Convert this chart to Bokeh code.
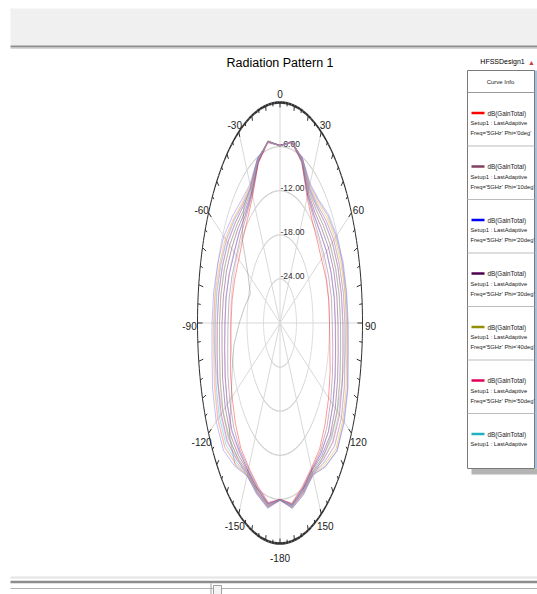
import math
from bokeh.plotting import figure
from bokeh.models import Range1d
from bokeh.embed import file_html
from bokeh.resources import INLINE
from bokeh.core.properties import value

# ---------------- data ----------------
THETA = [-180, -170, -160, -150, -140, -130, -120, -110, -100, -90, -80, -70, -60, -50, -40, -30, -20, -10,
         0, 10, 20, 30, 40, 50, 60, 70, 80, 90, 100, 110, 120, 130, 140, 150, 160, 170, 180]

PHI = [0, 10, 20, 30, 40, 50, 60, 70, 80, 90, 100, 110, 120, 130]

GAIN_PHI0 = [-6.0, -5.2, -6.4, -7.3, -7.8, -8.8, -9.9, -10.8, -11.8, -12.2, -12.3, -12.5, -12.7, -12.3, -11.6, -10.1, -6.9, -5.0,
             -5.8, -5.1, -6.8, -10.3, -11.8, -12.4, -12.6, -12.2, -12.0, -12.0, -11.6, -10.6, -9.6, -8.6, -7.6, -7.2, -6.3, -5.1, -6.0]
GAIN_PHI10 = [-6.0, -5.1, -6.2, -7.1, -7.4, -8.0, -8.9, -9.8, -10.7, -11.1, -11.2, -11.4, -11.7, -11.4, -11.0, -9.8, -6.8, -4.9,
              -5.8, -5.0, -6.7, -10.0, -11.2, -11.6, -11.5, -11.2, -11.0, -11.0, -10.5, -9.7, -8.7, -7.8, -7.2, -7.0, -6.1, -5.0, -6.0]
GAIN_PHI20 = [-6.0, -5.0, -6.0, -6.8, -7.1, -7.2, -7.9, -8.8, -9.6, -10.0, -10.1, -10.4, -10.8, -10.7, -10.6, -9.6, -6.7, -4.9,
              -5.9, -5.0, -6.6, -9.8, -10.8, -10.9, -10.5, -10.2, -10.0, -9.9, -9.5, -8.7, -7.8, -7.0, -6.8, -6.9, -5.9, -4.9, -6.0]
GAIN_PHI30 = [-5.9, -4.9, -5.9, -6.7, -6.5, -6.4, -7.0, -7.8, -8.6, -8.9, -9.1, -9.3, -9.7, -10.0, -10.2, -9.4, -6.6, -4.9,
              -5.9, -4.9, -6.5, -9.5, -10.3, -10.1, -9.6, -9.2, -9.0, -8.9, -8.5, -7.7, -6.8, -6.2, -6.4, -6.8, -5.8, -4.8, -5.9]
GAIN_PHI40 = [-5.9, -4.8, -5.7, -6.5, -6.1, -5.7, -6.1, -6.9, -7.7, -8.0, -8.2, -8.5, -8.9, -9.4, -9.7, -9.1, -6.5, -4.8,
              -5.9, -4.9, -6.4, -9.2, -9.8, -9.4, -8.8, -8.4, -8.1, -8.0, -7.6, -6.8, -5.9, -5.5, -6.0, -6.6, -5.6, -4.7, -5.9]
GAIN_PHI50 = [-5.9, -4.7, -5.6, -6.4, -5.7, -5.0, -5.3, -6.0, -6.8, -7.2, -7.4, -7.7, -8.1, -8.8, -9.2, -8.8, -6.4, -4.9,
              -5.9, -4.9, -6.3, -8.9, -9.3, -8.7, -8.0, -7.6, -7.3, -7.1, -6.7, -5.9, -5.0, -4.8, -5.6, -6.5, -5.5, -4.6, -5.9]
GAIN_PHI60 = [-5.9, -4.6, -5.5, -6.3, -5.3, -4.3, -4.5, -5.3, -6.1, -6.5, -6.7, -7.1, -7.5, -8.3, -8.9, -8.6, -6.3, -5.0,
              -5.9, -5.0, -6.3, -8.7, -9.0, -8.2, -7.4, -7.0, -6.6, -6.4, -6.0, -5.1, -4.2, -4.0, -5.2, -6.4, -5.4, -4.6, -5.9]
GAIN_PHI70 = [-5.9, -4.5, -5.4, -6.2, -4.9, -3.7, -3.8, -4.6, -5.5, -5.9, -6.1, -6.6, -7.0, -7.9, -8.6, -8.4, -6.2, -5.0,
              -5.9, -5.0, -6.2, -8.5, -8.6, -7.7, -6.9, -6.4, -6.0, -5.8, -5.4, -4.4, -3.6, -3.4, -4.8, -6.3, -5.3, -4.5, -5.9]
GAIN_PHI80 = [-5.9, -4.5, -5.3, -6.1, -4.7, -6.0, -9.5, -11.5, -13.0, -15.2, -17.0, -18.5, -16.5, -12.0, -9.5, -8.6, -6.2, -5.0,
              -5.9, -5.0, -6.2, -8.3, -8.3, -7.3, -6.5, -5.9, -5.6, -5.4, -5.0, -3.9, -3.2, -3.0, -4.5, -6.2, -5.2, -4.4, -5.9]
GAIN_PHI90 = [-5.9, -4.4, -5.2, -6.0, -4.5, -3.1, -3.2, -3.9, -4.9, -5.3, -5.5, -6.0, -6.4, -7.4, -8.2, -8.2, -6.1, -5.1,
              -5.8, -5.1, -6.1, -8.1, -8.1, -7.0, -6.2, -5.6, -5.4, -5.2, -4.8, -3.7, -3.0, -2.9, -4.4, -6.1, -5.1, -4.4, -5.9]
GAIN_PHI100 = [-5.8, -4.6, -5.4, -6.4, -5.0, -3.8, -4.0, -4.9, -5.9, -6.3, -6.5, -6.9, -7.4, -8.1, -8.9, -8.7, -6.4, -5.1,
               -5.9, -5.1, -6.3, -8.6, -8.9, -8.2, -7.4, -7.0, -6.6, -6.4, -6.0, -5.0, -4.2, -4.1, -5.1, -6.3, -5.5, -4.6, -5.8]
GAIN_PHI110 = [-5.9, -4.8, -5.6, -6.6, -6.0, -5.5, -5.9, -6.8, -7.6, -8.0, -8.1, -8.4, -8.8, -9.4, -9.8, -9.2, -6.4, -4.9,
               -5.9, -4.9, -6.5, -9.1, -9.7, -9.4, -8.9, -8.5, -8.2, -8.0, -7.7, -6.9, -6.1, -5.7, -6.1, -6.5, -5.7, -4.8, -5.9]
GAIN_PHI120 = [-6.0, -4.9, -5.9, -6.9, -6.9, -7.0, -7.8, -8.7, -9.5, -9.9, -10.0, -10.3, -10.6, -10.8, -10.7, -9.7, -6.6, -5.0,
               -5.9, -5.0, -6.7, -9.7, -10.7, -10.8, -10.4, -10.1, -9.9, -9.8, -9.4, -8.6, -7.7, -7.0, -7.0, -6.8, -6.0, -5.0, -6.0]
GAIN_PHI130 = [-5.9, -4.6, -5.5, -6.5, -5.6, -4.8, -5.0, -5.9, -6.7, -7.1, -7.3, -7.6, -8.0, -8.7, -9.3, -8.9, -6.3, -4.9,
               -5.9, -4.9, -6.4, -8.8, -9.2, -8.8, -8.1, -7.7, -7.4, -7.2, -6.8, -6.0, -5.3, -5.0, -5.7, -6.4, -5.6, -4.7, -5.9]

GAINS = [GAIN_PHI0, GAIN_PHI10, GAIN_PHI20, GAIN_PHI30, GAIN_PHI40, GAIN_PHI50, GAIN_PHI60,
         GAIN_PHI70, GAIN_PHI80, GAIN_PHI90, GAIN_PHI100, GAIN_PHI110, GAIN_PHI120, GAIN_PHI130]

CURVE_COLORS = ["#ff0000", "#804060", "#0000ff", "#500050", "#909000", "#e0005a", "#20b0c0",
                "#ff8c00", "#707070", "#6060ff", "#ff80b0", "#9090d8", "#e09070", "#70b0e0"]

RING_DB = [-24, -18, -12, -6]
RING_LABELS = ["-24.00", "-18.00", "-12.00", "-6.00"]
R_MIN, R_MAX = -30, 0

ANGLE_TICKS = [0, 30, 60, 90, 120, 150, 180, 210, 240, 270, 300, 330]
ANGLE_LABELS = ["0", "30", "60", "90", "120", "150", "-180", "-150", "-120", "-90", "-60", "-30"]

LEGEND_COUNT = 7
TITLE = "Radiation Pattern 1"
DESIGN = "HFSSDesign1"

# ---------------- layout ----------------
FONT = "Liberation Sans"
CX, CY, RX, RY = 279.5, 322.5, 82.5, 220.5
W, H = 537, 594

p = figure(width=W, height=H, x_range=Range1d(0, W), y_range=Range1d(H, 0),
           output_backend="svg", toolbar_location=None, min_border=0,
           x_axis_location=None, y_axis_location=None, outline_line_color=None)
p.grid.visible = False
p.background_fill_color = "white"
p.border_fill_color = "white"


def frac(db):
    return (db - R_MIN) / (R_MAX - R_MIN)


def to_xy(theta_deg, db):
    f = frac(db)
    t = math.radians(theta_deg)
    return CX + f * RX * math.sin(t), CY - f * RY * math.cos(t)


def label(x, y, txt, size, align="left", color="#202020"):
    p.text(x=x if isinstance(x, list) else [x], y=y if isinstance(y, list) else [y],
           text=txt if isinstance(txt, list) else [txt], text_font=value(FONT),
           text_font_size=size, text_align=align, text_baseline="middle", text_color=color)


# window chrome
p.quad(left=10, right=W, top=8, bottom=45, fill_color="#f0f0f0", line_color=None)
p.segment(x0=10, y0=46, x1=W, y1=46, line_color="#8c8c8c", line_width=2)
p.segment(x0=10, y0=48, x1=W, y1=48, line_color="#d8d8d8", line_width=1)
p.segment(x0=10, y0=577, x1=W, y1=577, line_color="#e4e4e4", line_width=2)
p.segment(x0=10, y0=581.5, x1=W, y1=581.5, line_color="#8c8c8c", line_width=2.5)
p.segment(x0=10, y0=588, x1=W, y1=588, line_color="#b0b0b0", line_width=1)
p.quad(left=213, right=221, top=585, bottom=600, fill_color="#f4f4f4", line_color="#a0a0a0")
p.segment(x0=210.5, y0=583, x1=210.5, y1=600, line_color="#a0a0a0", line_width=1)

# grid rings (stroke slightly heavier where tangent is horizontal, as in the stretched original)
for db in RING_DB:
    xs, ys, ws = [], [], []
    for a in range(0, 360, 3):
        x0, y0 = to_xy(a, db)
        x1, y1 = to_xy(a + 3, db)
        xs.append([x0, x1]); ys.append([y0, y1])
        ws.append(0.7 + 0.6 * abs(math.cos(math.radians(a + 1.5))) ** 4)
    p.multi_line(xs=xs, ys=ys, line_color="#cfcfcf", line_width=ws)

# spokes
for a in ANGLE_TICKS:
    x1, y1 = to_xy(a, R_MAX)
    p.segment(x0=CX, y0=CY, x1=x1, y1=y1, line_color="#d8d8d8", line_width=1)

# ring labels
label([CX + 0.5] * len(RING_DB), [to_xy(0, db)[1] - 3 for db in RING_DB], RING_LABELS, "8.5px",
      color="#303030")

# curves
for gains, col in zip(GAINS, CURVE_COLORS):
    pts = [to_xy(t, g) for t, g in zip(THETA, gains)]
    p.line(x=[q[0] for q in pts], y=[q[1] for q in pts], line_color=col, line_alpha=0.4, line_width=1)

# outer ring
xs, ys, ws = [], [], []
for a in range(0, 360, 2):
    x0, y0 = to_xy(a, R_MAX)
    x1, y1 = to_xy(a + 2, R_MAX)
    xs.append([x0, x1]); ys.append([y0, y1])
    ws.append(1.0 + 1.6 * abs(math.cos(math.radians(a + 1))) ** 6)
p.multi_line(xs=xs, ys=ys, line_color="#303030", line_width=ws)

# outer ring ticks every 5 degrees, pointing inward
tx0, ty0, tx1, ty1 = [], [], [], []
for a in range(0, 360, 5):
    px_, py_ = to_xy(a, R_MAX)
    dx, dy = CX - px_, CY - py_
    n = math.hypot(dx, dy)
    L = 5.0 if a % 10 == 0 else 3.0
    tx0.append(px_); ty0.append(py_)
    tx1.append(px_ + dx / n * L); ty1.append(py_ + dy / n * L)
p.segment(x0=tx0, y0=ty0, x1=tx1, y1=ty1, line_color="#303030", line_width=1)

# angle labels
lx, ly = [], []
for a in ANGLE_TICKS:
    px_, py_ = to_xy(a, R_MAX)
    t = math.radians(a)
    lx.append(px_ + 8 * math.sin(t))
    ly.append(py_ - 11.5 * math.cos(t) + 2.5)
label(lx, ly, ANGLE_LABELS, "10px", align="center")

# title + design name
label(CX, 62, TITLE, "12.5px", align="center", color="#000000")
label(502, 61, DESIGN, "7px", align="center", color="#000000")
p.text(x=[531], y=[62], text=["▲"], text_font_size="7px", text_align="center",
       text_baseline="middle", text_color="#d04040")

# legend box
BOX_L, BOX_R, BOX_T, BOX_B = 467, 534, 70, 468
p.quad(left=BOX_L + 4, right=BOX_R + 4, top=BOX_B, bottom=BOX_B + 6, fill_color="#b4b4b4", line_color=None)
p.quad(left=BOX_L, right=BOX_R, top=BOX_T, bottom=BOX_B, fill_color="white", line_color="#7a7a7a", line_width=1)
p.segment(x0=BOX_R + 1.5, y0=BOX_T, x1=BOX_R + 1.5, y1=BOX_B, line_color="#a8c0e0", line_width=2)
label(500, 81, "Curve Info", "6px", align="center")
p.segment(x0=BOX_L, y0=92, x1=BOX_R, y1=92, line_color="#9a9a9a", line_width=1)

STEP = 53.5
for k in range(LEGEND_COUNT):
    ly0 = 112.5 + STEP * k
    col = CURVE_COLORS[k]
    p.segment(x0=471, y0=ly0, x1=484, y1=ly0, line_color=col, line_width=2.5)
    lines = ["Setup1 : LastAdaptive"]
    if k < 6:
        lines.append("Freq='5GHz' Phi='%ddeg'" % PHI[k])
    label(487, ly0, "dB(GainTotal)", "6.3px")
    label([470] * len(lines), [ly0 + 10 + 10 * i for i in range(len(lines))], lines, "5.8px")
    if k < 6:
        p.segment(x0=BOX_L, y0=ly0 + 33, x1=BOX_R, y1=ly0 + 33, line_color="#bcbcbc", line_width=1)

open("out.html", "w").write(file_html(p, INLINE))
